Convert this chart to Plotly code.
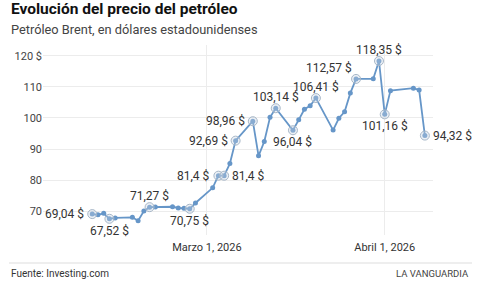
import plotly.graph_objects as go

dates = ["2026-02-09","2026-02-10","2026-02-11","2026-02-12","2026-02-13",
         "2026-02-16","2026-02-17","2026-02-18","2026-02-19","2026-02-20",
         "2026-02-23","2026-02-24","2026-02-25","2026-02-26","2026-02-27",
         "2026-03-02","2026-03-03","2026-03-04","2026-03-05","2026-03-06",
         "2026-03-09","2026-03-10","2026-03-11","2026-03-12","2026-03-13",
         "2026-03-16","2026-03-17","2026-03-18","2026-03-19","2026-03-20",
         "2026-03-23","2026-03-24","2026-03-25","2026-03-26","2026-03-27",
         "2026-03-30","2026-03-31","2026-04-01","2026-04-02",
         "2026-04-06","2026-04-07","2026-04-08"]
prices = [69.04, 68.8, 69.3, 67.52, 67.8,
          68.0, 66.9, 70.0, 71.27, 71.3,
          71.4, 71.0, 70.9, 70.75, 72.6,
          77.5, 81.4, 81.4, 85.3, 92.69,
          98.96, 87.8, 92.4, 100.2, 103.14,
          96.04, 99.4, 102.8, 103.9, 106.41,
          96.1, 99.9, 102.0, 108.0, 112.57,
          112.6, 118.35, 101.16, 108.8,
          109.6, 109.0, 94.32]

# labelled points: (index, position)
label_idx = [0, 3, 8, 13, 16, 17, 19, 20, 24, 25, 29, 34, 36, 37, 41]
label_pos = ["left", "below", "above", "below", "left", "right", "left", "left",
             "above", "below", "above", "aboveleft", "above", "below", "right"]

ytick_vals = [70, 80, 90, 100, 110, 120]
ytick_text = ["70", "80", "90", "100", "110", "120 $"]
xtick_vals = ["2026-03-01", "2026-04-01"]
xtick_text = ["Marzo 1, 2026", "Abril 1, 2026"]

title = "Evolución del precio del petróleo"
subtitle = "Petróleo Brent, en dólares estadounidenses"
source = "Fuente: Investing.com"
brand = "LA VANGUARDIA"

LINE = "#6696c8"
FONT = "Roboto, Arial, sans-serif"

def fmt(v):
    s = f"{v:.2f}".rstrip("0").rstrip(".")
    return s.replace(".", ",") + " $"

fig = go.Figure()
fig.add_trace(go.Scatter(
    x=dates, y=prices, mode="lines+markers",
    line=dict(color=LINE, width=1.8),
    marker=dict(size=5, color=LINE),
    hoverinfo="skip", showlegend=False))
fig.add_trace(go.Scatter(
    x=[dates[i] for i in label_idx], y=[prices[i] for i in label_idx],
    mode="markers",
    marker=dict(size=9, color="rgba(200,212,225,0.35)",
                line=dict(color="#a7b7c8", width=1)),
    hoverinfo="skip", showlegend=False))

offsets = {
    "left": dict(xanchor="right", yanchor="middle", xshift=-6, yshift=0),
    "right": dict(xanchor="left", yanchor="middle", xshift=6, yshift=0),
    "above": dict(xanchor="center", yanchor="bottom", xshift=0, yshift=2),
    "below": dict(xanchor="center", yanchor="top", xshift=0, yshift=-3),
    "aboveleft": dict(xanchor="right", yanchor="bottom", xshift=-2, yshift=2),
}
for i, p in zip(label_idx, label_pos):
    fig.add_annotation(x=dates[i], y=prices[i], xref="x", yref="y",
                       text=fmt(prices[i]), showarrow=False,
                       font=dict(family=FONT, size=12, color="#333333"),
                       **offsets[p])

L, R, T, B = 43, 67, 45, 46
W, H = 500, 281
pw, ph = W - L - R, H - T - B
def px(x): return (x - L) / pw
def py(y): return (H - B - y) / ph

fig.add_annotation(xref="paper", yref="paper", x=px(9), y=py(9),
                   xanchor="left", yanchor="middle", showarrow=False,
                   text="<b>" + title + "</b>",
                   font=dict(family=FONT, size=15.5, color="#111111"))
fig.add_annotation(xref="paper", yref="paper", x=px(9), y=py(30),
                   xanchor="left", yanchor="middle", showarrow=False,
                   text=subtitle,
                   font=dict(family=FONT, size=12.8, color="#444444"))
fig.add_annotation(xref="paper", yref="paper", x=px(9), y=py(273),
                   xanchor="left", yanchor="middle", showarrow=False,
                   text=source,
                   font=dict(family=FONT, size=10, color="#333333"))
fig.add_annotation(xref="paper", yref="paper", x=px(471), y=py(273),
                   xanchor="right", yanchor="middle", showarrow=False,
                   text=brand,
                   font=dict(family=FONT, size=9.5, color="#444444"))
fig.add_shape(type="line", xref="paper", yref="paper",
              x0=px(9), x1=px(472), y0=py(263), y1=py(263),
              line=dict(color="#dddddd", width=1))

fig.update_layout(
    width=W, height=H, margin=dict(l=L, r=R, t=T, b=B),
    paper_bgcolor="white", plot_bgcolor="white",
    font=dict(family=FONT, color="#444444"),
    xaxis=dict(type="date", range=["2026-01-31 10:00", "2026-04-09 10:00"],
               tickvals=xtick_vals, ticktext=xtick_text,
               showgrid=True, gridcolor="#ececec", gridwidth=1,
               zeroline=False, showline=False, ticks="",
               ticklabelstandoff=4,
               tickfont=dict(size=11, color="#333333")),
    yaxis=dict(range=[62.3, 123.5], tickvals=ytick_vals, ticktext=ytick_text,
               showgrid=True, gridcolor="#ececec", gridwidth=1,
               zeroline=False, showline=False, ticks="",
               tickfont=dict(size=11, color="#444444")),
)

fig.write_html("out.html")
